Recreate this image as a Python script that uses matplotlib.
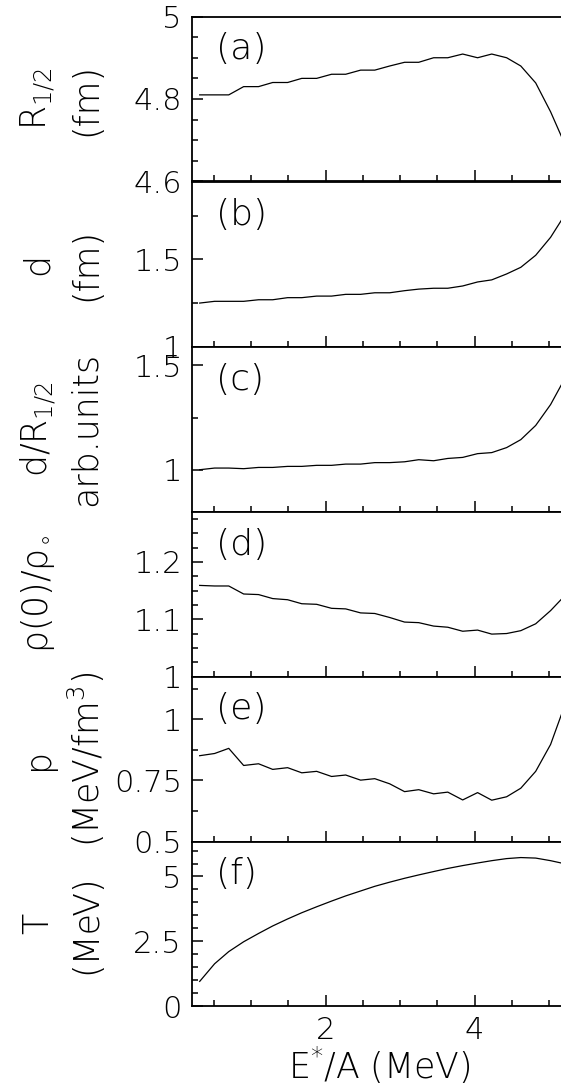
import matplotlib
matplotlib.use("Agg")
import matplotlib.pyplot as plt
from matplotlib.ticker import MultipleLocator, FuncFormatter

# excitation energy per nucleon (MeV)
e_star = [0.31, 0.51, 0.70, 0.90, 1.10, 1.29, 1.49, 1.68, 1.88, 2.08, 2.27, 2.47, 2.66,
          2.86, 3.06, 3.25, 3.45, 3.64, 3.84, 4.04, 4.23, 4.43, 4.62, 4.82, 5.02, 5.21]

r_half = [4.810, 4.810, 4.810, 4.830, 4.830, 4.840, 4.840, 4.850, 4.850, 4.860, 4.860, 4.870, 4.870,
          4.880, 4.889, 4.889, 4.900, 4.900, 4.909, 4.900, 4.909, 4.900, 4.880, 4.839, 4.769, 4.691]

diffuse = [1.249, 1.259, 1.259, 1.259, 1.268, 1.268, 1.280, 1.280, 1.289, 1.289, 1.299, 1.299, 1.308,
           1.308, 1.320, 1.329, 1.334, 1.334, 1.347, 1.370, 1.382, 1.416, 1.454, 1.523, 1.626, 1.754]

d_over_r = [1.000, 1.008, 1.008, 1.005, 1.011, 1.011, 1.016, 1.016, 1.021, 1.021, 1.027, 1.027, 1.034,
            1.034, 1.038, 1.048, 1.043, 1.054, 1.059, 1.077, 1.082, 1.106, 1.144, 1.212, 1.312, 1.436]

rho_ratio = [1.159, 1.158, 1.158, 1.144, 1.143, 1.136, 1.134, 1.127, 1.126, 1.119, 1.118, 1.111, 1.110,
             1.103, 1.095, 1.094, 1.088, 1.086, 1.079, 1.081, 1.074, 1.075, 1.080, 1.092, 1.115, 1.141]

pressure = [0.851, 0.860, 0.881, 0.811, 0.818, 0.795, 0.802, 0.781, 0.787, 0.766, 0.772, 0.751, 0.757,
            0.736, 0.704, 0.712, 0.695, 0.702, 0.670, 0.700, 0.669, 0.683, 0.718, 0.787, 0.897, 1.057]

temp = [0.95, 1.63, 2.10, 2.48, 2.80, 3.09, 3.36, 3.60, 3.83, 4.05, 4.25, 4.44, 4.62,
        4.78, 4.93, 5.06, 5.19, 5.31, 5.42, 5.52, 5.61, 5.69, 5.73, 5.71, 5.61, 5.49]

panels = ["(a)", "(b)", "(c)", "(d)", "(e)", "(f)"]
series = [r_half, diffuse, d_over_r, rho_ratio, pressure, temp]
ylims = [(4.6, 5.0), (1.0, 1.946), (0.8, 1.59), (1.0, 1.288), (0.5, 1.175), (0.0, 6.35)]
ymajor = [0.2, 0.5, 0.5, 0.1, 0.25, 2.5]
yminor = [0.05, 0.25, 0.25, 0.025, 0.125, 0.5]
ylab_left = [r"R$_{1/2}$", "d", r"d/R$_{1/2}$", r"$\mathrm{\rho}$(0)/$\mathrm{\rho}_{\circ}$", "p", "T"]
ylab_right = ["(fm)", "(fm)", "arb.units", "", r"(MeV/fm$^3$)", "(MeV)"]

W, H = 561, 1088
plt.rcParams['font.family'] = ['DejaVu Sans']
plt.rcParams['font.weight'] = 200
plt.rcParams['axes.labelweight'] = 200
plt.rcParams['mathtext.fontset'] = 'custom'
plt.rcParams['mathtext.rm'] = 'DejaVu Sans:extralight'
plt.rcParams['mathtext.it'] = 'DejaVu Sans:extralight'
plt.rcParams['mathtext.sf'] = 'DejaVu Sans:extralight'

fig = plt.figure(figsize=(W / 100, H / 100), dpi=100)

edges = [16.5, 181.5, 346.5, 511.5, 676.5, 841.5, 1006.0]
left_px = 191.5

def fmt(v, pos):
    return "%g" % round(v, 4)

for i in range(6):
    top, bot = edges[i], edges[i + 1]
    ax = fig.add_axes([left_px / W, 1 - bot / H, (W - left_px) / W + 0.01, (bot - top) / H])
    ax.plot(e_star, series[i], color="black", lw=0.9)
    ax.set_xlim(0.2, 5.235)
    ax.set_ylim(*ylims[i])
    ax.spines['right'].set_visible(False)
    for s in ['left', 'top', 'bottom']:
        ax.spines[s].set_linewidth(1.3)
    ax.xaxis.set_major_locator(MultipleLocator(2))
    ax.xaxis.set_minor_locator(MultipleLocator(0.5))
    ax.yaxis.set_major_locator(MultipleLocator(ymajor[i]))
    ax.yaxis.set_minor_locator(MultipleLocator(yminor[i]))
    ax.yaxis.set_major_formatter(FuncFormatter(fmt))
    ax.tick_params(which='both', direction='in', top=False, right=False, width=1.1)
    ax.tick_params(which='major', length=8, labelsize=22, pad=7)
    ax.tick_params(which='minor', length=4.5)
    if i < 5:
        ax.tick_params(axis='x', labelbottom=False)
    else:
        ax.xaxis.set_major_formatter(FuncFormatter(fmt))
        ax.set_xlabel(r"E$^{*}$/A (MeV)", fontsize=25, labelpad=0)
    ax.text(24 / (W - left_px), 0.80, panels[i], transform=ax.transAxes,
            fontsize=26, ha='left', va='center')

    yc = 1 - (top + bot) / 2 / H
    fig.text(38 / W, yc, ylab_left[i], rotation=90, fontsize=25, ha='center', va='center')
    if ylab_right[i]:
        fig.text(86 / W, yc, ylab_right[i], rotation=90, fontsize=25, ha='center', va='center')

fig.savefig("out.png", dpi=100)
